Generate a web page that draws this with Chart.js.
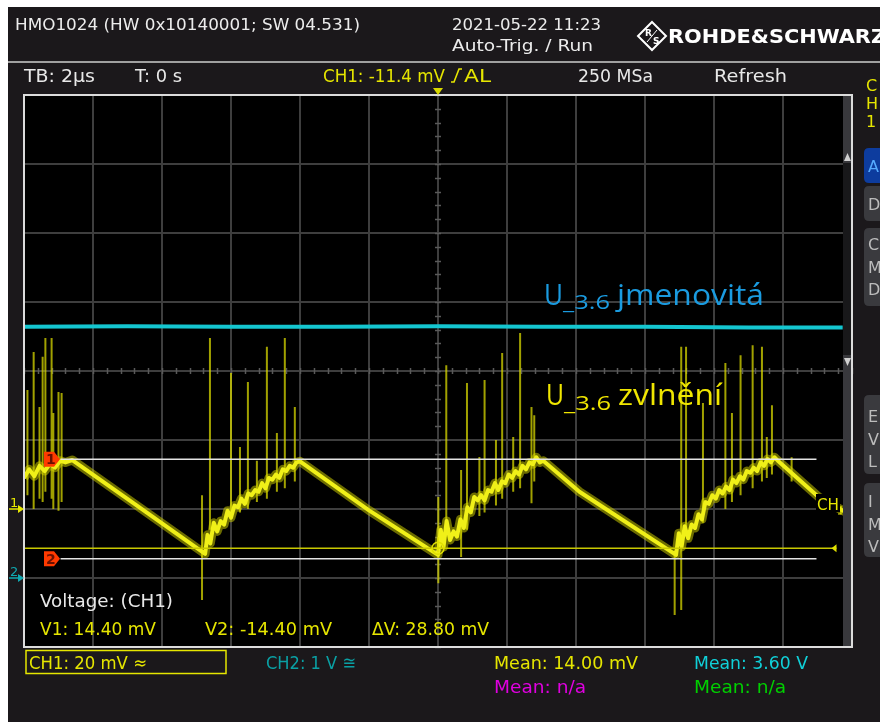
<!DOCTYPE html>
<html>
<head>
<meta charset="utf-8">
<script src="https://cdn.jsdelivr.net/npm/chart.js@4.4.1/dist/chart.umd.min.js"></script>
<style>
html, body { margin: 0; padding: 0; background: #1b181b; overflow: hidden; }
canvas { display: block; }
</style>
</head>
<body>
<canvas id="scope" width="880" height="722"></canvas>
<script>
// time in µs (TB 2 µs/div), CH1 in mV (20 mV/div), CH2 in V (1 V/div)
var timeRange = [-12, 12];
var ch1Range = [-40, 120];
var ch2Range = [-1, 7];

// CH1 ripple trace
var traceT = [
  -12.0, -11.85, -11.7, -11.55, -11.4, -11.25, -11.1, -10.95, -10.8, -10.6,
  -8.9, -6.75,
  -6.68, -6.6, -6.5, -6.4, -6.3, -6.2, -6.1, -6.0, -5.9, -5.8, -5.7, -5.6, -5.5, -5.4,
  -5.3, -5.2, -5.1, -5.0, -4.9, -4.8, -4.7, -4.6, -4.5, -4.4, -4.3, -4.2, -4.1, -4.0,
  -2.0, 0.0,
  0.08, 0.16, 0.25, 0.35, 0.45, 0.55, 0.65, 0.75, 0.85, 0.95, 1.05, 1.15, 1.25, 1.35,
  1.45, 1.55, 1.65, 1.75, 1.85, 1.95, 2.05, 2.15, 2.25, 2.35, 2.45, 2.55, 2.65, 2.75,
  2.85, 2.95, 3.05,
  4.1, 6.9,
  6.98, 7.06, 7.15, 7.25, 7.35, 7.45, 7.55, 7.65, 7.75, 7.85, 7.95, 8.05, 8.15, 8.25,
  8.35, 8.45, 8.55, 8.65, 8.75, 8.85, 8.95, 9.05, 9.15, 9.25, 9.35, 9.45, 9.55, 9.65,
  9.75, 9.85,
  11.03, 11.7, 12.0
];
var traceV = [
  9.0, 11.5, 9.5, 12.5, 11.0, 13.0, 12.0, 14.0, 13.5, 14.2,
  2.2, -13.0,
  -7.5, -10.0, -4.0, -6.5, -3.5, -4.5, -0.5, -2.5, 1.0, 0.5, 3.0, 1.5, 4.5, 4.0,
  5.5, 5.0, 7.5, 6.0, 9.0, 8.5, 10.0, 9.0, 11.5, 11.0, 12.5, 12.0, 13.5, 13.8,
  -0.4, -13.3,
  -6.0, -11.0, -3.5, -9.0, -6.5, -8.0, -3.0, -5.5, 0.5, -1.0, 3.5, 2.5, 4.0, 2.5,
  5.5, 5.0, 7.5, 5.5, 8.0, 7.5, 10.0, 9.0, 11.0, 10.0, 12.5, 11.5, 13.5, 13.0,
  15.0, 13.5, 14.0,
  5.0, -13.3,
  -7.0, -11.0, -5.0, -8.5, -4.5, -5.5, -1.5, -3.0, 2.0, 1.5, 4.0, 3.0, 5.5, 4.5,
  6.5, 5.5, 8.5, 7.5, 9.5, 8.5, 11.0, 10.5, 12.0, 11.0, 13.5, 12.5, 14.5, 13.5,
  15.0, 14.0,
  3.5, -0.3, -1.8
];

// switching spikes on CH1: time, top, bottom (mV)
var spikeT = [-11.9, -11.72, -11.55, -11.46, -11.38, -11.2, -11.15, -11.0, -10.91,
  -6.84, -6.61, -6.0, -5.74, -5.51, -5.25, -4.96, -4.67, -4.44, -4.15,
  0.01, 0.24, 0.67, 0.84, 1.2, 1.35, 1.68, 1.86, 2.18, 2.38, 2.71, 2.79,
  6.86, 7.05, 7.19, 7.68, 8.33, 8.52, 8.77, 9.12, 9.39, 9.53, 9.68, 10.25];
var spikeTop = [34.5, 45.5, 29.6, 44.1, 49.6, 49.6, 27.8, 33.9, 33.6,
  4.0, 49.6, 39.4, 18.0, 36.8, 14.0, 47.0, 22.0, 49.6, 29.6,
  3.5, 41.7, 11.3, 36.5, 15.1, 37.4, 20.0, 45.2, 20.9, 51.0, 29.6, 27.2,
  -12.0, 47.0, 47.0, 30.7, 42.3, 27.8, 44.6, 47.5, 47.0, 20.9, 30.1, 15.0];
var spikeBot = [4, 0, 3, 2, 5, 3, 0, -0.5, 2,
  -26.4, -6, -3, -1, 0, 2, 3, 5, 6, 8,
  -21.5, -8, -13.9, -6, -2, -1, 1, 3, 5, 6, 1.7, 8,
  -30.7, -29.3, -8, -4, 0, 2, 4, 6, 8, 9, 10, 8];

// CH2 nominal 3.6 V line
var cyanT = [-12, -9, -6, -3, 0, 3, 6, 9, 11.73];
var cyanV = [3.64, 3.65, 3.64, 3.64, 3.65, 3.64, 3.64, 3.63, 3.63];

// cursors and trigger
var cursorV1 = 14.40;
var cursorV2 = -14.40;
var cursorSpan = [-10.94, 10.97];
var trigLevel = -11.4;
var trigSpan = [-12, 11.55];
var ch1Mean = 14.00;
var ch2Mean = 3.60;

var tracePts = traceT.map(function (t, i) { return { x: t, y: traceV[i] }; });
var spikePts = [];
spikeT.forEach(function (t, i) {
  spikePts.push({ x: t, y: spikeTop[i] }, { x: t, y: spikeBot[i] }, { x: t, y: null });
});
var cyanPts = cyanT.map(function (t, i) { return { x: t, y: cyanV[i] }; });
function hline(v, span) { return [{ x: span[0], y: v }, { x: span[1], y: v }]; }

function put(g, s, x, base, w, size, color, font) {
  g.font = font || (size + 'px "DejaVu Sans"');
  var m = g.measureText(s).width;
  g.save();
  g.translate(x, base);
  if (w) g.scale(w / m, 1);
  g.fillStyle = color;
  g.textBaseline = 'alphabetic';
  g.textAlign = 'left';
  g.fillText(s, 0, 0);
  g.restore();
}

var scopePlugin = {
  id: 'scope',
  beforeDraw: function (c) {
    var g = c.ctx, a = c.chartArea;
    g.save();
    g.fillStyle = '#1b181b';
    g.fillRect(0, 0, 880, 722);
    g.fillStyle = '#ffffff';
    g.fillRect(0, 0, 880, 7);
    g.fillRect(0, 0, 8, 722);
    g.fillStyle = '#000000';
    g.fillRect(a.left, a.top, a.right - a.left, a.bottom - a.top);
    g.restore();
  },
  beforeDatasetsDraw: function (c) {
    var g = c.ctx, xs = c.scales.x, ys = c.scales.y;
    var cx = xs.getPixelForValue(0), cy = ys.getPixelForValue(40);
    g.save();
    g.strokeStyle = '#5a5a5a';
    g.lineWidth = 1.5;
    g.beginPath();
    for (var t = -12; t <= 12.001; t += 0.4) {
      var px = Math.round(xs.getPixelForValue(t)) + 0.5;
      g.moveTo(px, cy - 3); g.lineTo(px, cy + 3);
    }
    for (var v = -40; v <= 120.001; v += 4) {
      var py = Math.round(ys.getPixelForValue(v)) + 0.5;
      g.moveTo(cx - 3, py); g.lineTo(cx + 3, py);
    }
    g.stroke();
    g.restore();
  },
  afterDatasetsDraw: function (c) {
    var g = c.ctx, a = c.chartArea, xs = c.scales.x, ys = c.scales.y, y2 = c.scales.y2;
    g.save();

    // scrollbar column inside the right edge
    g.fillStyle = '#38383c';
    g.fillRect(a.right - 9, a.top, 9, a.bottom - a.top);
    g.fillStyle = '#18181a';
    g.fillRect(a.right - 9, 163, 9, 192);
    g.fillStyle = '#d0d0d0';
    g.beginPath(); g.moveTo(a.right - 8, 161); g.lineTo(a.right - 1, 161); g.lineTo(a.right - 4.5, 153); g.fill();
    g.beginPath(); g.moveTo(a.right - 8, 358); g.lineTo(a.right - 1, 358); g.lineTo(a.right - 4.5, 366); g.fill();

    // plot frame
    g.strokeStyle = '#dcdcdc';
    g.lineWidth = 2;
    g.strokeRect(a.left, a.top, a.right - a.left, a.bottom - a.top);

    // cursor flags
    function flag(y, n) {
      g.fillStyle = '#ff3a00';
      g.beginPath();
      g.moveTo(44, y - 7.5); g.lineTo(54, y - 7.5); g.lineTo(60, y); g.lineTo(54, y + 7.5); g.lineTo(44, y + 7.5);
      g.closePath(); g.fill();
      put(g, n, 46, y + 5, 0, 14, '#6a1000', 'bold 14px "DejaVu Sans"');
    }
    flag(ys.getPixelForValue(cursorV1), '1');
    flag(ys.getPixelForValue(cursorV2), '2');

    // channel ground markers on the left
    function gnd(y, n, col) {
      put(g, n, 10, y - 2, 0, 13, col, '13px "DejaVu Sans"');
      g.strokeStyle = col; g.fillStyle = col; g.lineWidth = 1.5;
      g.beginPath(); g.moveTo(9, y); g.lineTo(20, y); g.stroke();
      g.beginPath(); g.moveTo(18, y - 4); g.lineTo(24, y); g.lineTo(18, y + 4); g.fill();
    }
    gnd(ys.getPixelForValue(0), '1', '#e6e600');
    gnd(y2.getPixelForValue(0), '2', '#10a8b0');

    // trigger position and level marks
    var tx = xs.getPixelForValue(0), ty = ys.getPixelForValue(trigLevel);
    g.fillStyle = '#d8d800';
    g.beginPath(); g.moveTo(tx - 5, 88); g.lineTo(tx + 5, 88); g.lineTo(tx, 95); g.fill();
    g.strokeStyle = '#e0e000'; g.lineWidth = 1.5;
    g.beginPath(); g.arc(tx, ty, 6, 0, Math.PI * 2); g.stroke();
    g.beginPath(); g.moveTo(tx, ty - 11); g.lineTo(tx, ty + 4); g.moveTo(tx - 4, ty); g.lineTo(tx + 4, ty); g.stroke();
    var ex = xs.getPixelForValue(trigSpan[1]);
    g.fillStyle = '#e0e000';
    g.beginPath(); g.moveTo(ex - 5, ty); g.lineTo(ex, ty - 4); g.lineTo(ex, ty + 4); g.fill();

    // CH label at right
    g.fillStyle = '#000';
    g.fillRect(816, 494, 24, 18);
    put(g, 'CH', 817, 510, 22, 16, '#e6e600');
    g.strokeStyle = '#e6e600'; g.lineWidth = 1.2;
    g.beginPath(); g.moveTo(841, 506); g.lineTo(841, 514); g.lineTo(838, 514); g.stroke();

    // annotations
    var blue = '#1a9be0', yel = '#f0e600';
    put(g, 'U', 544, 305, 19, 30, blue, '30px "Open Sans"');
    put(g, '_3.6', 563, 309, 47, 20, blue, '20px "Open Sans"');
    put(g, 'jmenovitá', 617, 305, 147, 30, blue, '30px "Open Sans"');
    put(g, 'U', 546, 405, 18, 30, yel, '30px "Open Sans"');
    put(g, '_3.6', 564, 410, 47, 20, yel, '20px "Open Sans"');
    put(g, 'zvlnění', 618, 405, 104, 30, yel, '30px "Open Sans"');

    // measurement readout inside the grid
    put(g, 'Voltage: (CH1)', 40, 607, 133, 18, '#e8e8e8');
    put(g, 'V1: ' + cursorV1.toFixed(2) + ' mV', 40, 635, 116, 18, '#e6e600');
    put(g, 'V2: ' + cursorV2.toFixed(2) + ' mV', 205, 635, 127, 18, '#e6e600');
    put(g, 'ΔV: ' + (cursorV1 - cursorV2).toFixed(2) + ' mV', 372, 635, 117, 18, '#e6e600');

    // header
    put(g, 'HMO1024 (HW 0x10140001; SW 04.531)', 15, 30, 345, 16, '#ececec');
    put(g, '2021-05-22 11:23', 452, 30, 149, 16, '#ececec');
    put(g, 'Auto-Trig. / Run', 452, 51, 141, 16, '#ececec');
    put(g, 'ROHDE&SCHWARZ', 668, 43, 218, 19, '#ffffff', 'bold 19px "DejaVu Sans"');
    g.strokeStyle = '#ffffff'; g.lineWidth = 2;
    g.beginPath(); g.moveTo(652, 22); g.lineTo(666, 36); g.lineTo(652, 50); g.lineTo(638, 36); g.closePath(); g.stroke();
    put(g, 'R', 645, 36, 0, 9, '#ffffff', 'bold 9px "DejaVu Sans"');
    put(g, 'S', 653, 44, 0, 9, '#ffffff', 'bold 9px "DejaVu Sans"');
    g.lineWidth = 1;
    g.beginPath(); g.moveTo(647, 42); g.lineTo(657, 30); g.stroke();
    g.fillStyle = '#a0a0a0';
    g.fillRect(8, 61, 872, 2);

    // status row
    put(g, 'TB: 2µs', 24, 82, 71, 18, '#e8e8e8');
    put(g, 'T: 0 s', 135, 82, 47, 18, '#e8e8e8');
    put(g, 'CH1: ' + trigLevel.toFixed(1) + ' mV', 323, 82, 122, 18, '#e6e600');
    g.strokeStyle = '#e6e600'; g.lineWidth = 1.6;
    g.beginPath(); g.moveTo(451, 82); g.lineTo(454, 82); g.lineTo(459, 69); g.lineTo(462, 69); g.stroke();
    put(g, 'AL', 464, 82, 27, 18, '#e6e600');
    put(g, '250 MSa', 578, 82, 75, 18, '#e8e8e8');
    put(g, 'Refresh', 714, 82, 73, 18, '#e8e8e8');

    // channel info under the grid
    g.strokeStyle = '#e6e600'; g.lineWidth = 1.5;
    g.strokeRect(26, 650.5, 200, 23);
    put(g, 'CH1: 20 mV ≈', 29, 669, 118, 18, '#e6e600');
    put(g, 'CH2: 1 V ≅', 266, 669, 90, 18, '#0aa0a4');
    put(g, 'Mean: ' + ch1Mean.toFixed(2) + ' mV', 494, 669, 144, 18, '#e6e600');
    put(g, 'Mean: ' + ch2Mean.toFixed(2) + ' V', 694, 669, 114, 18, '#10d0d8');
    put(g, 'Mean: n/a', 494, 693, 92, 18, '#e000e0');
    put(g, 'Mean: n/a', 694, 693, 92, 18, '#00d000');

    // soft-key column, cut off at the right edge
    put(g, 'C', 866, 91, 0, 16, '#e6e600');
    put(g, 'H', 866, 109, 0, 16, '#e6e600');
    put(g, '1', 866, 127, 0, 16, '#e6e600');
    function key(y0, y1, fill, letters, col) {
      g.fillStyle = fill;
      g.beginPath();
      g.moveTo(869, y0); g.lineTo(885, y0); g.lineTo(885, y1); g.lineTo(869, y1);
      g.quadraticCurveTo(864, y1, 864, y1 - 5); g.lineTo(864, y0 + 5); g.quadraticCurveTo(864, y0, 869, y0);
      g.fill();
      letters.forEach(function (l) { put(g, l[0], 868, l[1], 0, 16, col); });
    }
    key(148, 183, '#0d3c9e', [['A', 172]], '#55aaff');
    key(186, 221, '#3a3a3e', [['D', 210]], '#bcbcbc');
    key(228, 306, '#3a3a3e', [['C', 250], ['M', 273], ['D', 295]], '#bcbcbc');
    key(395, 474, '#3a3a3e', [['E', 422], ['V', 445], ['L', 467]], '#bcbcbc');
    key(483, 557, '#3a3a3e', [['I', 507], ['M', 530], ['V', 552]], '#bcbcbc');

    g.restore();
  }
};

var gridStyle = { color: '#3e3e3e', lineWidth: 2, drawTicks: false };

var chart = new Chart(document.getElementById('scope'), {
  type: 'line',
  data: {
    datasets: [
      { label: 'V1', data: hline(cursorV1, cursorSpan), borderColor: '#e4e4e4', borderWidth: 1.5, yAxisID: 'y' },
      { label: 'V2', data: hline(cursorV2, cursorSpan), borderColor: '#e4e4e4', borderWidth: 1.5, yAxisID: 'y' },
      { label: 'Trigger', data: hline(trigLevel, trigSpan), borderColor: '#c8c800', borderWidth: 1.5, yAxisID: 'y' },
      { label: 'CH1', data: tracePts, borderColor: '#f0f018', borderWidth: 4, borderJoinStyle: 'round', yAxisID: 'y' },
      { label: 'CH1 glow', data: tracePts, borderColor: 'rgba(215,215,0,0.5)', borderWidth: 9, borderJoinStyle: 'round', yAxisID: 'y' },
      { label: 'Spikes', data: spikePts, borderColor: 'rgba(215,215,0,0.75)', borderWidth: 2, spanGaps: false, yAxisID: 'y' },
      { label: 'CH2', data: cyanPts, borderColor: '#14c6d0', borderWidth: 4, yAxisID: 'y2' }
    ]
  },
  options: {
    responsive: false,
    animation: false,
    events: [],
    layout: { padding: { left: 24, top: 95, right: 28, bottom: 75 } },
    elements: { point: { radius: 0 }, line: { tension: 0 } },
    plugins: { legend: { display: false }, tooltip: { enabled: false } },
    scales: {
      x: {
        type: 'linear', min: timeRange[0], max: timeRange[1],
        ticks: { display: false, stepSize: 2 },
        grid: gridStyle, border: { display: false }
      },
      y: {
        min: ch1Range[0], max: ch1Range[1],
        ticks: { display: false, stepSize: 20 },
        grid: gridStyle, border: { display: false }
      },
      y2: { display: false, min: ch2Range[0], max: ch2Range[1] }
    }
  },
  plugins: [scopePlugin]
});
</script>
</body>
</html>
